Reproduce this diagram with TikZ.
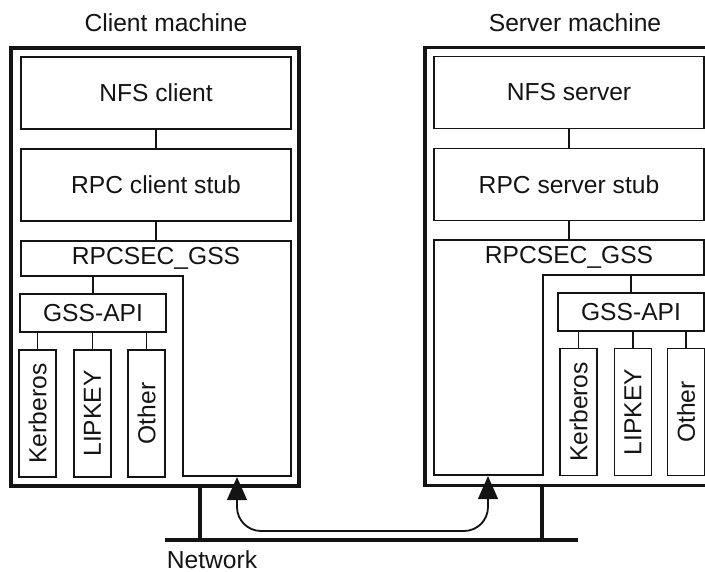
\documentclass[tikz,border=0pt]{standalone}
\usepackage{fontspec}
\setmainfont{Liberation Sans}
\usetikzlibrary{positioning,arrows.meta}
\definecolor{inkblack}{RGB}{20,20,20}
\tikzset{
  machine/.style={draw=inkblack,line width=2.6pt,minimum width=7.2cm,
    minimum height=10.95cm,inner sep=0pt},
  layer/.style={draw=inkblack,line width=1.3pt,minimum width=6.75cm,
    minimum height=1.8cm},
  secbar/.style={minimum width=6.75cm,minimum height=0.85cm,inner sep=0pt},
  gssbox/.style={draw=inkblack,line width=1.3pt,minimum width=3.65cm,
    minimum height=0.95cm,inner sep=0pt},
  mech/.style={draw=inkblack,line width=1.3pt,minimum width=0.925cm,
    minimum height=3.175cm,inner sep=0pt},
  link/.style={draw=inkblack,line width=1pt},
  tap/.style={draw=inkblack,line width=2.6pt},
}

\begin{document}
\begin{tikzpicture}[x=0.025cm,y=-0.025cm,text=inkblack,
    font=\fontsize{17.5}{21}\selectfont]
    \useasboundingbox (0,0) rectangle (705,572);
    \clip (0,0) rectangle (705,572);

    \node (ctitle) at (166,23) {Client machine};
    \node[machine] (client) at (155,267) {};
    \node[layer] (cnfs) at (156,93) {NFS client};
    \node[layer] (crpc) at (156,185) {RPC client stub};
    \node[secbar] (csec) at (156,258.5) {RPCSEC\_GSS};
    \coordinate (ccol) at (183,476);
    \draw[inkblack,line width=1.3pt] (csec.north west) -- (csec.north east)
      -- (csec.east |- ccol) -- (ccol) -- (ccol |- csec.south)
      -- (csec.south west) -- cycle;
    \node[gssbox] (cgss) at (93,313) {GSS-API};
    \node[mech] (ckrb) at (37.5,413.5) {\rotatebox{90}{Kerberos}};
    \node[mech] (clip) at (92.5,413.5) {\rotatebox{90}{LIPKEY}};
    \node[mech] (coth) at (146.5,413.5) {\rotatebox{90}{Other}};
    \draw[link] (cnfs) -- (crpc);
    \draw[link] (crpc) -- (csec);
    \draw[link] (cgss.north) -- (cgss.north |- csec.south);
    \draw[link] (ckrb.north) -- (ckrb.north |- cgss.south);
    \draw[link] (clip.north) -- (clip.north |- cgss.south);
    \draw[link] (coth.north) -- (coth.north |- cgss.south);

    \node (stitle) at (575,23) {Server machine};
    \node[machine] (server) at (569,266.5) {};
    \node[layer] (snfs) at (569,92.5) {NFS server};
    \node[layer] (srpc) at (569,184.5) {RPC server stub};
    \node[secbar] (ssec) at (569,257.5) {RPCSEC\_GSS};
    \coordinate (scol) at (543,475);
    \draw[inkblack,line width=1.3pt] (ssec.north west) -- (ssec.north east)
      -- (ssec.south east) -- (scol |- ssec.south) -- (scol)
      -- (ssec.west |- scol) -- cycle;
    \node[gssbox] (sgss) at (631,312) {GSS-API};
    \node[mech] (skrb) at (578.5,412) {\rotatebox{90}{Kerberos}};
    \node[mech] (slip) at (633,412) {\rotatebox{90}{LIPKEY}};
    \node[mech] (soth) at (686,412) {\rotatebox{90}{Other}};
    \draw[link] (snfs) -- (srpc);
    \draw[link] (srpc) -- (ssec);
    \draw[link] (sgss.north) -- (sgss.north |- ssec.south);
    \draw[link] (skrb.north) -- (skrb.north |- sgss.south);
    \draw[link] (slip.north) -- (slip.north |- sgss.south);
    \draw[link] (soth.north) -- (soth.north |- sgss.south);

    \coordinate (netw) at (165,540);
    \coordinate (nete) at (578,540);
    \coordinate (ctap) at (200,540);
    \coordinate (stap) at (542,540);
    \draw[inkblack,line width=3.2pt] (netw) -- (nete);
    \draw[tap] (ctap) -- (ctap |- client.south);
    \draw[tap] (stap) -- (stap |- server.south);
    \node (network) at (212,559.5) {Network};

    \coordinate (cfoot) at (237,477);
    \coordinate (sfoot) at (488,476);
    \coordinate (bend) at (360,531);
    \draw[inkblack,line width=1.3pt,rounded corners=0.6cm,
          {Triangle[length=0.58cm,width=0.5cm]}-{Triangle[length=0.58cm,width=0.5cm]}]
      (cfoot) -- (cfoot |- bend) -- (sfoot |- bend) -- (sfoot);
\end{tikzpicture}
\end{document}
